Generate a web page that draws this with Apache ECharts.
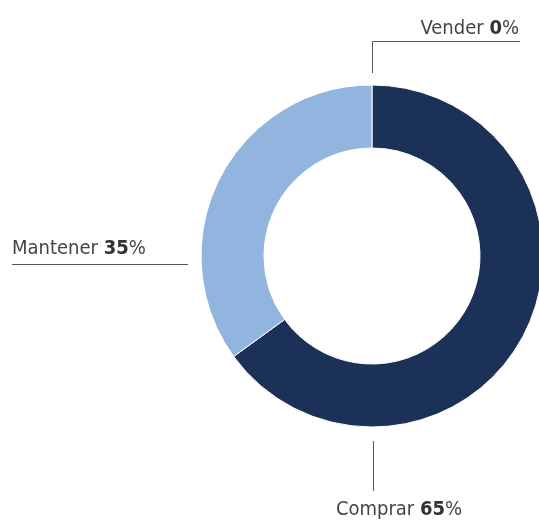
<!DOCTYPE html>
<html>
<head>
<meta charset="utf-8">
<script src="https://cdn.jsdelivr.net/npm/echarts@6/dist/echarts.min.js"></script>
<style>
  html, body { margin: 0; padding: 0; background: #fff; }
  #main { width: 539px; height: 521px; }
</style>
</head>
<body>
<div id="main"></div>
<script>
// datos del gráfico
var categories = ['Vender', 'Comprar', 'Mantener'];
var values = [0, 65, 35];
var colors = ['#1b3157', '#1b3157', '#92b5df'];

var myChart = echarts.init(document.getElementById('main'));

var font = '"DejaVu Sans Condensed", sans-serif';

// posiciones de etiquetas y líneas (px)
var labelPos = [
  { x: 519, y: 39, align: 'right', line: [[372.5, 73], [372.5, 41.5], [520, 41.5]] },
  { x: 399, y: 520, align: 'center', line: [[373.5, 441], [373.5, 466], [373.5, 491]] },
  { x: 12, y: 259, align: 'left', line: [[188, 264.5], [100, 264.5], [12, 264.5]] }
];

myChart.setOption({
  animation: false,
  series: [{
    type: 'pie',
    center: [372, 256],
    radius: [108, 171],
    startAngle: 90,
    clockwise: true,
    avoidLabelOverlap: false,
    itemStyle: { borderColor: '#fff', borderWidth: 1 },
    label: {
      show: true,
      formatter: function (p) {
        return '{n|' + p.name + ' }{v|' + p.value + '}{p|%}';
      },
      rich: {
        n: { fontFamily: font, fontSize: 20, color: '#444' },
        v: { fontFamily: font, fontSize: 20, fontWeight: 'bold', color: '#333' },
        p: { fontFamily: font, fontSize: 20, color: '#444' }
      }
    },
    labelLine: { show: true, lineStyle: { color: '#555', width: 1 } },
    labelLayout: function (params) {
      var l = labelPos[params.dataIndex];
      return {
        x: l.x,
        y: l.y,
        align: l.align,
        verticalAlign: 'bottom',
        labelLinePoints: l.line
      };
    },
    data: categories.map(function (c, i) {
      return { name: c, value: values[i], itemStyle: { color: colors[i] } };
    })
  }]
});
</script>
</body>
</html>
